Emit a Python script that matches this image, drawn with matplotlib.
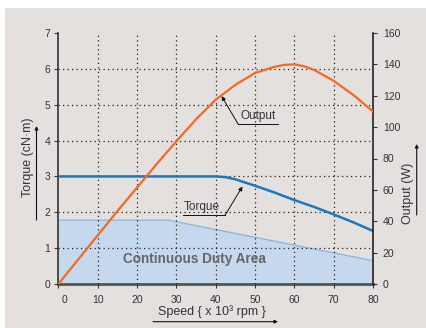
import matplotlib
matplotlib.use("Agg")
import matplotlib.pyplot as plt
import matplotlib.transforms as mtrans
from matplotlib.patches import Rectangle

plt.rcParams['font.family'] = ['Liberation Sans', 'DejaVu Sans']

# values
speed_out = [0, 5, 10, 15, 20, 25, 30, 35, 40, 45, 50, 55, 57.5, 60, 62.5, 65, 70, 75, 80]
output_w = [0, 15.5, 31, 46.5, 61.5, 76.5, 91, 105, 117.5, 127, 134.5, 138.5, 139.7, 140,
            138.8, 136.5, 129.5, 120.5, 110]

speed_tq = [0, 40, 42.5, 45, 50, 55, 60, 65, 70, 75, 80]
torque = [3.0, 3.0, 2.98, 2.92, 2.74, 2.55, 2.34, 2.15, 1.94, 1.72, 1.48]

speed_cont = [0, 28, 80]
torque_cont = [1.78, 1.78, 0.65]

x_ticks = [0, 10, 20, 30, 40, 50, 60, 70, 80]
tq_ticks = [0, 1, 2, 3, 4, 5, 6, 7]
w_ticks = [0, 20, 40, 60, 80, 100, 120, 140, 160]

bg = '#e4e0dd'
orange = '#f26a24'
blue = '#1679c4'
fill_c = '#c5d8ee'
fill_edge = '#86b4e2'
txt = '#333333'

fig = plt.figure(figsize=(4.27, 3.28), dpi=100, facecolor='white')
fig.patches.append(Rectangle((5 / 427, 0), 1, 1 - 8 / 328, transform=fig.transFigure,
                             facecolor=bg, edgecolor='none', zorder=-10))

ax = fig.add_axes([58.4 / 427, 1 - 284 / 328, (373 - 58.4) / 427, (284 - 33) / 328])
ax.set_facecolor('none')
ax2 = ax.twinx()

ax.fill_between(speed_cont, torque_cont, 0, color=fill_c, lw=0, zorder=1)
ax.plot(speed_cont, torque_cont, color=fill_edge, lw=0.9, zorder=2)
ax.plot(speed_tq, torque, color=blue, lw=1.8, zorder=4, solid_joinstyle='round')
ax2.plot(speed_out, output_w, color=orange, lw=1.6, zorder=4, solid_joinstyle='round')

ax.set_xlim(0, 80)
ax.set_ylim(0, 7)
ax2.set_ylim(0, 160)
ax.set_xticks(x_ticks)
ax.set_yticks(tq_ticks)
ax2.set_yticks(w_ticks)

ax.grid(True, color='#222222', lw=0.9, ls=(0, (1, 2.6)), zorder=3)
ax.set_axisbelow(False)
for g in [ax.get_xgridlines()[0], ax.get_xgridlines()[-1],
          ax.get_ygridlines()[0], ax.get_ygridlines()[-1]]:
    g.set_visible(False)

for a in (ax, ax2):
    a.spines['top'].set_visible(False)
ax.spines['right'].set_visible(False)
ax2.spines['left'].set_visible(False)
ax2.spines['bottom'].set_visible(False)
ax.spines['left'].set_color('#333333')
ax.spines['left'].set_linewidth(1.2)
ax.spines['bottom'].set_color('#555555')
ax.spines['bottom'].set_linewidth(2.0)
ax2.spines['right'].set_color('#222222')
ax2.spines['right'].set_linewidth(1.2)

ax.tick_params(axis='both', labelsize=7.5, colors=txt, length=3, width=0.8, pad=3)
ax.tick_params(axis='x', pad=5)
ax2.tick_params(axis='y', labelsize=7.5, colors=txt, length=3, width=0.8, pad=4)

# the "0" speed label sits a little to the right in the reference
lab0 = ax.get_xticklabels()[0]
lab0.set_transform(lab0.get_transform() + mtrans.ScaledTranslation(6 / 100, 0, fig.dpi_scale_trans))

ax.text(0.433, 0.1, 'Continuous Duty Area', transform=ax.transAxes, ha='center', va='center',
        fontsize=9.8, fontweight='bold', color='#666666', zorder=5)

# curve callouts
arr = dict(arrowstyle='-|>', lw=0.7, color='#111111', mutation_scale=6, shrinkA=0, shrinkB=0)
ax.annotate('', xy=(41.5, 5.24), xytext=(45.7, 4.46), arrowprops=arr, zorder=6)
ax.plot([45.7, 55.9], [4.46, 4.46], color='#111111', lw=0.7, zorder=6)
ax.text(46.2, 4.52, 'Output', fontsize=8.5, color=txt, va='bottom', ha='left', zorder=6)

ax.annotate('', xy=(46.8, 2.72), xytext=(42.4, 1.92), arrowprops=arr, zorder=6)
ax.plot([31.7, 42.4], [1.92, 1.92], color='#111111', lw=0.7, zorder=6)
ax.text(31.9, 1.98, 'Torque', fontsize=8.5, color=txt, va='bottom', ha='left', zorder=6)

# axis titles with direction arrows
H = 328
ax_arr = dict(arrowstyle='-|>', lw=0.8, color='#111111', mutation_scale=5, shrinkA=0, shrinkB=0)
fig.text(28 / 427, 1 - 157 / H, 'Torque (cN\u00b7m)', rotation=90, ha='center', va='center',
         fontsize=9, color=txt)
ax.annotate('', xy=(36.5, H - 126), xytext=(36.5, H - 220), xycoords='figure pixels',
            textcoords='figure pixels', arrowprops=ax_arr, annotation_clip=False)

fig.text(408 / 427, 1 - 193 / H, 'Output (W)', rotation=90, ha='center', va='center',
         fontsize=9, color=txt)
ax.annotate('', xy=(416.7, H - 144), xytext=(416.7, H - 215), xycoords='figure pixels',
            textcoords='figure pixels', arrowprops=ax_arr, annotation_clip=False)

fig.text(212 / 427, 1 - 312 / H, 'Speed { x 10\u00b3 rpm }', ha='center', va='center',
         fontsize=9, color=txt)
ax.annotate('', xy=(278, H - 321.7), xytext=(153, H - 321.7), xycoords='figure pixels',
            textcoords='figure pixels', arrowprops=ax_arr, annotation_clip=False)

fig.savefig('out.png', dpi=100, facecolor=fig.get_facecolor())
